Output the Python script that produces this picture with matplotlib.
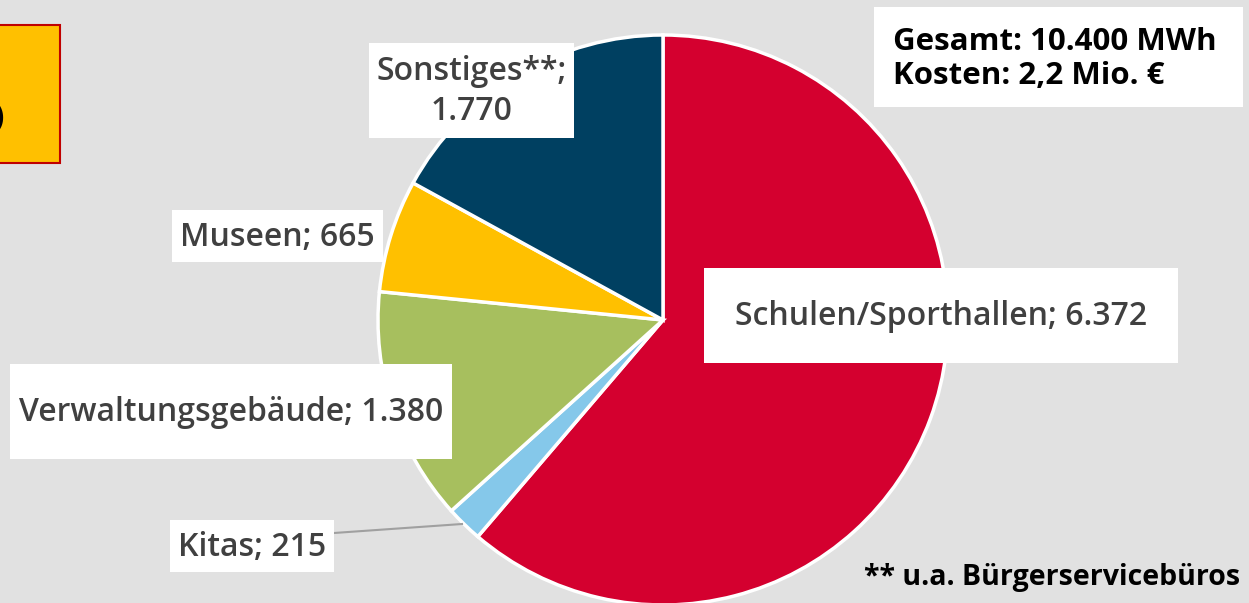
import matplotlib.pyplot as plt
from matplotlib.patches import Rectangle

# Energieverbrauch nach Gebäudeart (MWh)
categories = ['Schulen/Sporthallen', 'Kitas', 'Verwaltungsgebäude', 'Museen', 'Sonstiges**']
values = [6372, 215, 1380, 665, 1770]
colors = ['#D4002F', '#85C8EA', '#A7BF5E', '#FFC000', '#004061']

total_text = 'Gesamt: 10.400 MWh\nKosten: 2,2 Mio. €'
footnote = '** u.a. Bürgerservicebüros'

plt.rcParams['font.family'] = ['Open Sans', 'DejaVu Sans']

W, H = 1249, 603
fig = plt.figure(figsize=(W / 100, H / 100), dpi=100)
fig.patch.set_facecolor('#E1E1E1')
ax = fig.add_axes([0, 0, 1, 1])


def py(y):
    # image y (top-down) -> data y
    return H - y


ax.pie(values, colors=colors, startangle=90, counterclock=False,
       center=(663, py(320)), radius=285, frame=True,
       wedgeprops=dict(edgecolor='white', linewidth=2.5))
ax.set_xlim(0, W)
ax.set_ylim(0, H)
ax.set_aspect('equal')
ax.axis('off')


def fmt(v):
    return f'{v:,}'.replace(',', '.')


labels = [f'{c}; {fmt(v)}' for c, v in zip(categories, values)]
labels[4] = f'{categories[4]};\n{fmt(values[4])}'

# label boxes (x0, y0, x1, y1) in image pixels
boxes = [(704, 268, 1178, 363),
         (170, 520, 334, 572),
         (10, 364, 452, 459),
         (172, 210, 383, 262),
         (369, 43, 574, 138)]

# leader line for Kitas
ax.plot([334, 462], [py(533), py(524)], color='#A0A0A0', lw=1.5, zorder=2)

for lab, (x0, y0, x1, y1) in zip(labels, boxes):
    ax.add_patch(Rectangle((x0, py(y1)), x1 - x0, y1 - y0,
                           facecolor='white', edgecolor='none', zorder=3))
    ax.text((x0 + x1) / 2, py((y0 + y1) / 2 + 1), lab, ha='center', va='center',
            fontsize=23, fontweight='semibold', color='#404040',
            linespacing=1.3, zorder=4)

# total box
ax.add_patch(Rectangle((874, py(107)), 1243 - 874, 100,
                       facecolor='white', edgecolor='none', zorder=3))
ax.text(893, py(59), total_text, ha='left', va='center', fontsize=22.5,
        fontweight='bold', color='black', linespacing=1.2, zorder=4)

# footnote
ax.text(1240, py(578), footnote, ha='right', va='center', fontsize=20.5,
        fontweight='bold', color='black', zorder=4)

# cut-off yellow box top left
ax.add_patch(Rectangle((-20, py(163)), 80, 138, facecolor='#FFC000',
                       edgecolor='#C00000', linewidth=1.5, zorder=3,
                       clip_on=False))
ax.text(4, py(118), ')', ha='right', va='center', fontsize=22,
        fontweight='bold', color='black', zorder=4)

fig.savefig('out.png', dpi=100, facecolor=fig.get_facecolor())
